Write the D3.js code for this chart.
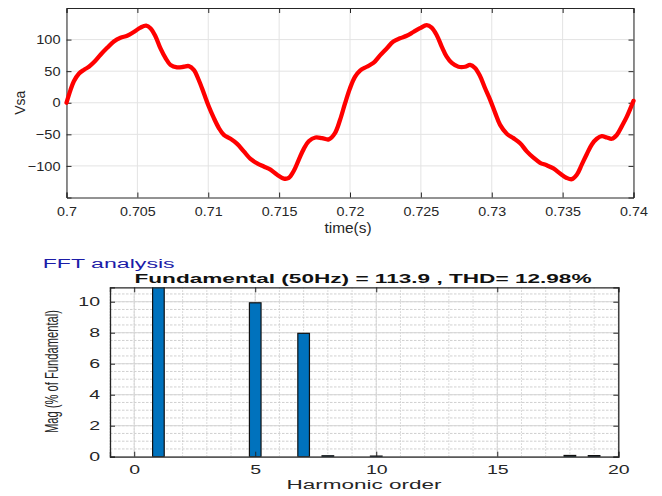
<!DOCTYPE html>
<html>
<head>
<meta charset="utf-8">
<title>Vsa and FFT analysis</title>
<script src="https://cdn.jsdelivr.net/npm/d3@7"></script>
<style>
body { margin: 0; background: #fff; }
svg { display: block; font-family: "Liberation Sans", Arial, sans-serif; }
.axis path, .axis line { stroke: #262626; }
.axis text { fill: #262626; }
</style>
</head>
<body>
<div id="chart"></div>
<script>

// ---- waveform (time in s, Vsa) ----
var timeS = [0.70000, 0.70028, 0.70052, 0.70087, 0.70122, 0.70158, 0.70193, 0.70240, 0.70287, 0.70334,
  0.70381, 0.70428, 0.70475, 0.70522, 0.70562, 0.70592, 0.70628, 0.70663, 0.70698, 0.70733,
  0.70780, 0.70827, 0.70863, 0.70898, 0.70933, 0.70969, 0.71004, 0.71039, 0.71075, 0.71110,
  0.71157, 0.71204, 0.71251, 0.71298, 0.71345, 0.71392, 0.71439, 0.71486, 0.71533, 0.71568,
  0.71603, 0.71639, 0.71674, 0.71709, 0.71756, 0.71803, 0.71850, 0.71894, 0.71930, 0.71965,
  0.72000, 0.72035, 0.72071, 0.72118, 0.72165, 0.72212, 0.72259, 0.72306, 0.72353, 0.72400,
  0.72447, 0.72494, 0.72541, 0.72576, 0.72612, 0.72647, 0.72682, 0.72718, 0.72765, 0.72812,
  0.72847, 0.72882, 0.72918, 0.72953, 0.72988, 0.73024, 0.73059, 0.73106, 0.73153, 0.73200,
  0.73247, 0.73294, 0.73341, 0.73388, 0.73435, 0.73482, 0.73529, 0.73565, 0.73600, 0.73635,
  0.73671, 0.73706, 0.73741, 0.73776, 0.73812, 0.73847, 0.73882, 0.73918, 0.73953, 0.74000];
var vsa = [0, 20, 34, 46, 52, 57, 64, 76, 87, 97,
  103, 106, 112, 119, 122, 118, 105, 86, 71, 60,
  56, 57, 58, 52, 36, 15, -6, -24, -40, -51,
  -57, -65, -77, -89, -96, -101, -106, -114, -120, -119,
  -108, -90, -73, -61, -55, -56, -58, -48, -27, -1,
  23, 41, 51, 57, 63, 75, 86, 97, 102, 106,
  112, 118, 123, 119, 107, 89, 73, 63, 57, 57,
  60, 55, 42, 23, 5, -16, -35, -49, -56, -64,
  -77, -87, -95, -99, -104, -112, -119, -121, -114, -98,
  -81, -66, -57, -53, -55, -57, -51, -37, -22, 3];

var timeTicks = [0.7, 0.705, 0.71, 0.715, 0.72, 0.725, 0.73, 0.735, 0.74];
var vsaTicks = [-100, -50, 0, 50, 100];

// ---- FFT spectrum (% of fundamental) ----
var harmonicOrder = d3.range(0, 21);
var magPct = [0, 100, 0, 0, 0, 9.93, 0, 7.96, 0.06, 0, 0.04,
  0, 0, 0, 0, 0, 0, 0, 0.08, 0.07, 0];
var orderTicks = [0, 5, 10, 15, 20];
var magTicks = [0, 2, 4, 6, 8, 10];

var fftTitle = "FFT analysis";
var fftSubtitle = "Fundamental (50Hz) = 113.9 , THD= 12.98%";

var W = 662, H = 496;
var svg = d3.select("#chart").append("svg").attr("width", W).attr("height", H);

// stretch text horizontally like the picture
function stretch(sel, k) {
  sel.each(function() {
    var n = this.getComputedTextLength();
    d3.select(this).attr("textLength", n * k).attr("lengthAdjust", "spacingAndGlyphs");
  });
}

/* ---------- top: Vsa vs time ---------- */
var t = { l: 66.5, r: 633.5, t: 8, b: 197.5 };
var x1 = d3.scaleLinear().domain([0.7, 0.74]).range([t.l, t.r]);
var y1 = d3.scaleLinear().domain([-150, 150]).range([t.b, t.t]);

var gTop = svg.append("g");
gTop.append("g").selectAll("line").data(timeTicks).join("line")
  .attr("x1", d => x1(d)).attr("x2", d => x1(d)).attr("y1", t.t).attr("y2", t.b)
  .attr("stroke", "#e3e3e3").attr("stroke-width", 1);
gTop.append("g").selectAll("line").data(vsaTicks).join("line")
  .attr("x1", t.l).attr("x2", t.r).attr("y1", d => y1(d)).attr("y2", d => y1(d))
  .attr("stroke", "#e3e3e3").attr("stroke-width", 1);

var ax1b = gTop.append("g").attr("class", "axis").attr("transform", "translate(0," + t.b + ")")
  .call(d3.axisBottom(x1).tickValues(timeTicks).tickFormat(d3.format("")).tickSize(-5).tickPadding(9));
var ax1t = gTop.append("g").attr("class", "axis").attr("transform", "translate(0," + t.t + ")")
  .call(d3.axisTop(x1).tickValues(timeTicks).tickFormat("").tickSize(-5));
var ax1l = gTop.append("g").attr("class", "axis").attr("transform", "translate(" + t.l + ",0)")
  .call(d3.axisLeft(y1).tickValues(vsaTicks).tickSize(-5).tickPadding(6));
var ax1r = gTop.append("g").attr("class", "axis").attr("transform", "translate(" + t.r + ",0)")
  .call(d3.axisRight(y1).tickValues(vsaTicks).tickFormat("").tickSize(-5));
[ax1b, ax1t, ax1l, ax1r].forEach(function(a) {
  a.select(".domain").attr("stroke", "#5a5a5a");
  a.selectAll(".tick line").attr("stroke", "#5a5a5a");
});
ax1b.selectAll("text").attr("font-size", 13).call(stretch, 1.1);
ax1l.selectAll("text").attr("font-size", 13).call(stretch, 1.12);

var line = d3.line().x((d, i) => x1(timeS[i])).y(d => y1(d)).curve(d3.curveCatmullRom);
gTop.append("path").datum(vsa).attr("d", line)
  .attr("fill", "none").attr("stroke", "#ff0000").attr("stroke-width", 4.3)
  .attr("stroke-linejoin", "round").attr("stroke-linecap", "round");

gTop.append("text").attr("x", 348).attr("y", 233).attr("text-anchor", "middle")
  .attr("font-size", 14).attr("fill", "#262626").text("time(s)").call(stretch, 1.1);
gTop.append("text").attr("transform", "translate(25," + y1(0) + ") rotate(-90)")
  .attr("text-anchor", "middle").attr("font-size", 14).attr("fill", "#262626").text("Vsa");

/* ---------- bottom: FFT bars ---------- */
var b = { l: 110, r: 618.3, t: 287.3, b: 456.7 };
var x2 = d3.scaleLinear().domain([-1, 20]).range([b.l, b.r]);
var y2 = d3.scaleLinear().domain([0, 10.93]).range([b.b, b.t]);

var gBot = svg.append("g");
svg.append("clipPath").attr("id", "clipB").append("rect")
  .attr("x", b.l).attr("y", b.t).attr("width", b.r - b.l).attr("height", b.b - b.t);

// minor grid (dotted)
gBot.append("g").selectAll("line").data(d3.range(-1, 21)).join("line")
  .attr("x1", d => x2(d)).attr("x2", d => x2(d)).attr("y1", b.t).attr("y2", b.b)
  .attr("stroke", "#c4c4c4").attr("stroke-width", 0.8).attr("stroke-dasharray", "1.5,1.5");
gBot.append("g").selectAll("line").data(d3.range(0.5, 10.93, 0.5)).join("line")
  .attr("x1", b.l).attr("x2", b.r).attr("y1", d => y2(d)).attr("y2", d => y2(d))
  .attr("stroke", "#c4c4c4").attr("stroke-width", 0.8).attr("stroke-dasharray", "2.5,1.5");
// major grid
gBot.append("g").selectAll("line").data(orderTicks).join("line")
  .attr("x1", d => x2(d)).attr("x2", d => x2(d)).attr("y1", b.t).attr("y2", b.b)
  .attr("stroke", "#d6d6d6").attr("stroke-width", 1);
gBot.append("g").selectAll("line").data(magTicks).join("line")
  .attr("x1", b.l).attr("x2", b.r).attr("y1", d => y2(d)).attr("y2", d => y2(d))
  .attr("stroke", "#d6d6d6").attr("stroke-width", 1);

var bw = x2(0.48) - x2(0);
gBot.append("g").attr("clip-path", "url(#clipB)").selectAll("rect")
  .data(magPct.map((d, i) => ({ h: harmonicOrder[i], v: d })).filter(d => d.v > 0)).join("rect")
  .attr("x", d => x2(d.h) - bw / 2)
  .attr("width", bw)
  .attr("y", d => y2(Math.min(d.v, 12)))
  .attr("height", d => y2(0) - y2(Math.min(d.v, 12)))
  .attr("fill", "#0072bd").attr("stroke", "#111").attr("stroke-width", 1.2);

var ax2b = gBot.append("g").attr("class", "axis").attr("transform", "translate(0," + b.b + ")")
  .call(d3.axisBottom(x2).tickValues(orderTicks).tickSize(-5).tickPadding(8));
var ax2t = gBot.append("g").attr("class", "axis").attr("transform", "translate(0," + b.t + ")")
  .call(d3.axisTop(x2).tickValues(orderTicks).tickFormat("").tickSize(-5));
var ax2l = gBot.append("g").attr("class", "axis").attr("transform", "translate(" + b.l + ",0)")
  .call(d3.axisLeft(y2).tickValues(magTicks).tickSize(-5).tickPadding(10));
var ax2r = gBot.append("g").attr("class", "axis").attr("transform", "translate(" + b.r + ",0)")
  .call(d3.axisRight(y2).tickValues(magTicks).tickFormat("").tickSize(-5));
[ax2b, ax2t, ax2l, ax2r].forEach(function(a) {
  a.select(".domain").attr("stroke", "#262626").attr("stroke-width", 1.3);
  a.selectAll(".tick line").attr("stroke", "#262626");
});
ax2b.selectAll("text").attr("font-size", 13).call(stretch, 1.5);
ax2l.selectAll("text").attr("font-size", 13).call(stretch, 1.5);

svg.append("text").attr("x", 42.7).attr("y", 268).attr("font-size", 12.5)
  .attr("fill", "#1c1ca8").text(fftTitle).attr("textLength", 132).attr("lengthAdjust", "spacingAndGlyphs");
svg.append("text").attr("x", 363).attr("y", 283).attr("text-anchor", "middle")
  .attr("font-size", 12.5).attr("font-weight", "bold").attr("fill", "#111")
  .text(fftSubtitle).attr("textLength", 457).attr("lengthAdjust", "spacingAndGlyphs");
svg.append("text").attr("x", 364).attr("y", 489).attr("text-anchor", "middle")
  .attr("font-size", 12.5).attr("fill", "#262626")
  .text("Harmonic order").attr("textLength", 155).attr("lengthAdjust", "spacingAndGlyphs");
svg.append("text").attr("transform", "translate(58,371.5) rotate(-90)")
  .attr("text-anchor", "middle").attr("font-size", 18).attr("fill", "#262626")
  .text("Mag (% of Fundamental)").attr("textLength", 123).attr("lengthAdjust", "spacingAndGlyphs");

</script>
</body>
</html>
